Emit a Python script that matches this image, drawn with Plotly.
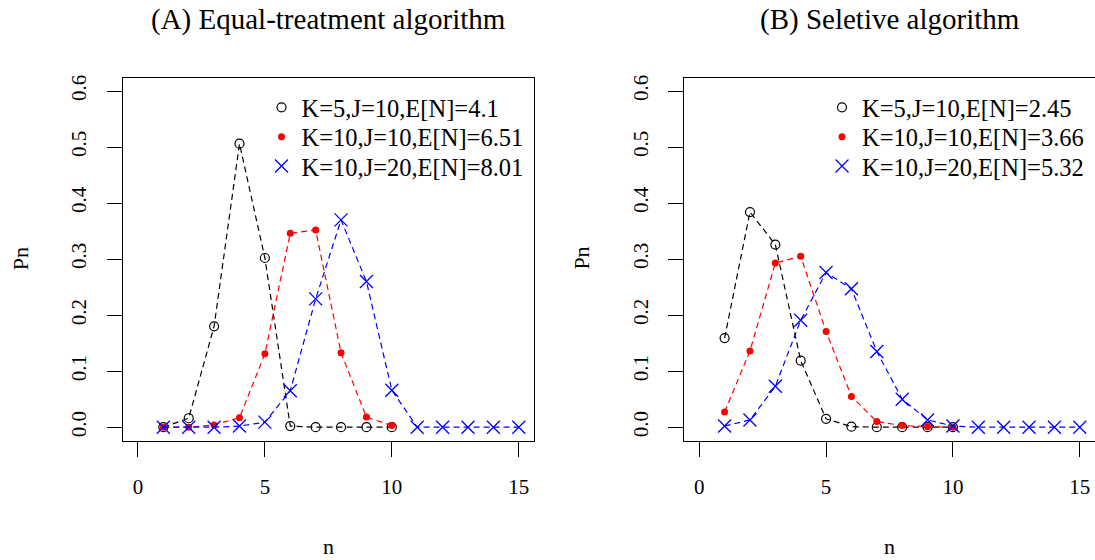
import plotly.graph_objects as go

# ---------------- data ----------------
n_short = [1, 2, 3, 4, 5, 6, 7, 8, 9, 10]
n_long = [1, 2, 3, 4, 5, 6, 7, 8, 9, 10, 11, 12, 13, 14, 15]

# (A) Equal-treatment algorithm
a_k5_j10 = [0.0, 0.016, 0.180, 0.506, 0.302, 0.002, 0.0, 0.0, 0.0, 0.0]
a_k10_j10 = [0.0, 0.0, 0.004, 0.017, 0.131, 0.346, 0.352, 0.133, 0.018, 0.003]
a_k10_j20 = [0.0, 0.0, 0.0, 0.002, 0.009, 0.065, 0.229, 0.370, 0.260, 0.066,
             0.0, 0.0, 0.0, 0.0, 0.0]

# (B) Seletive algorithm
b_k5_j10 = [0.159, 0.384, 0.326, 0.119, 0.015, 0.001, 0.0, 0.0, 0.0, 0.0]
b_k10_j10 = [0.027, 0.136, 0.293, 0.305, 0.171, 0.055, 0.010, 0.003, 0.001, 0.0]
b_k10_j20 = [0.002, 0.013, 0.073, 0.191, 0.276, 0.247, 0.135, 0.050, 0.013, 0.002,
             0.0, 0.0, 0.0, 0.0, 0.0]

legend_a = ["K=5,J=10,E[N]=4.1", "K=10,J=10,E[N]=6.51", "K=10,J=20,E[N]=8.01"]
legend_b = ["K=5,J=10,E[N]=2.45", "K=10,J=10,E[N]=3.66", "K=10,J=20,E[N]=5.32"]
titles = ["(A) Equal-treatment algorithm", "(B) Seletive algorithm"]
y_ticks = [0.0, 0.1, 0.2, 0.3, 0.4, 0.5, 0.6]
x_ticks = [0, 5, 10, 15]

# ---------------- style ----------------
W, H = 1095, 560
FONT = "Liberation Serif, Times New Roman, serif"
DASH = "6px,4px"
styles = [
    dict(color="black", symbol="circle-open", size=9, lw=1.2),
    dict(color="red", symbol="circle", size=7, lw=0),
    dict(color="blue", symbol="x-thin-open", size=13, lw=1.3),
]

fig = go.Figure()

panels = [
    ("x", "y", [(n_short, a_k5_j10), (n_short, a_k10_j10), (n_long, a_k10_j20)], legend_a),
    ("x2", "y2", [(n_short, b_k5_j10), (n_short, b_k10_j10), (n_long, b_k10_j20)], legend_b),
]

legend_rows_px = [105, 134.5, 164]
legend_left_px = [261.5, 822.0]
layout_legends = {}
leg_idx = 1
for p, (xa, ya, series, labels) in enumerate(panels):
    for s, ((xs, ys), st) in enumerate(zip(series, styles)):
        fig.add_trace(go.Scatter(
            x=xs, y=ys, xaxis=xa, yaxis=ya, mode="lines+markers",
            line=dict(color=st["color"], width=1.2, dash=DASH),
            marker=dict(color=st["color"], symbol=st["symbol"], size=st["size"],
                        line=dict(color=st["color"], width=st["lw"])),
            showlegend=False, hoverinfo="x+y",
        ))
    for s, (lab, st) in enumerate(zip(labels, styles)):
        lname = "legend" if leg_idx == 1 else f"legend{leg_idx}"
        fig.add_trace(go.Scatter(
            x=[None], y=[None], xaxis=xa, yaxis=ya, mode="markers", name=lab,
            marker=dict(color=st["color"], symbol=st["symbol"], size=st["size"],
                        line=dict(color=st["color"], width=st["lw"])),
            showlegend=True, legend=lname,
        ))
        layout_legends[lname] = dict(
            x=legend_left_px[p] / W, y=1 - legend_rows_px[s] / H,
            xanchor="left", yanchor="middle", bgcolor="rgba(0,0,0,0)",
            borderwidth=0, font=dict(family=FONT, size=24.5, color="black"),
            itemclick=False, itemdoubleclick=False,
        )
        leg_idx += 1

ydom = [1 - 440 / H, 1 - 75 / H]
xdoms = [[122.7 / W, 534 / W], [684 / W, 1.0]]

axis_common = dict(
    showgrid=False, zeroline=False, showline=True, linecolor="black", linewidth=1.2,
    ticks="outside", ticklen=15, tickwidth=1.2, tickcolor="black",
    tickfont=dict(family=FONT, size=21, color="black"),
)

fig.update_layout(
    width=W, height=H, margin=dict(l=0, r=0, t=0, b=0),
    paper_bgcolor="white", plot_bgcolor="white",
    xaxis=dict(domain=xdoms[0], range=[-0.6, 15.6], tickvals=x_ticks, mirror=True,
               anchor="y", ticklabelstandoff=12, **axis_common),
    yaxis=dict(domain=ydom, range=[-0.024, 0.624], tickvals=y_ticks, tickformat=".1f",
               tickangle=-90, mirror=True, anchor="x", ticklabelstandoff=12, **axis_common),
    xaxis2=dict(domain=xdoms[1], range=[-0.6, 15.6], tickvals=x_ticks, mirror=True,
                anchor="y2", ticklabelstandoff=12, **axis_common),
    yaxis2=dict(domain=ydom, range=[-0.024, 0.624], tickvals=y_ticks, tickformat=".1f",
                tickangle=-90, mirror=False, anchor="x2", ticklabelstandoff=12, **axis_common),
    **layout_legends,
)

# titles and axis labels
centers = [(122.7 + 534) / 2, (684 + 1095) / 2]
for p in range(2):
    fig.add_annotation(text=titles[p], x=centers[p] / W, y=1 - 17 / H, xref="paper", yref="paper",
                       xanchor="center", yanchor="middle", showarrow=False,
                       font=dict(family=FONT, size=29, color="black"))
    fig.add_annotation(text="n", x=centers[p] / W, y=1 - 546 / H, xref="paper", yref="paper",
                       xanchor="center", yanchor="middle", showarrow=False,
                       font=dict(family=FONT, size=22, color="black"))
    left = [122.7, 684][p]
    fig.add_annotation(text="Pn", x=(left - 102) / W, y=1 - 257 / H, xref="paper", yref="paper",
                       xanchor="center", yanchor="middle", showarrow=False, textangle=-90,
                       font=dict(family=FONT, size=22, color="black"))

fig.write_html(
    "out.html",
    config={"displayModeBar": False},
    post_script="document.body.style.margin='0';document.body.style.overflow='hidden';",
)
